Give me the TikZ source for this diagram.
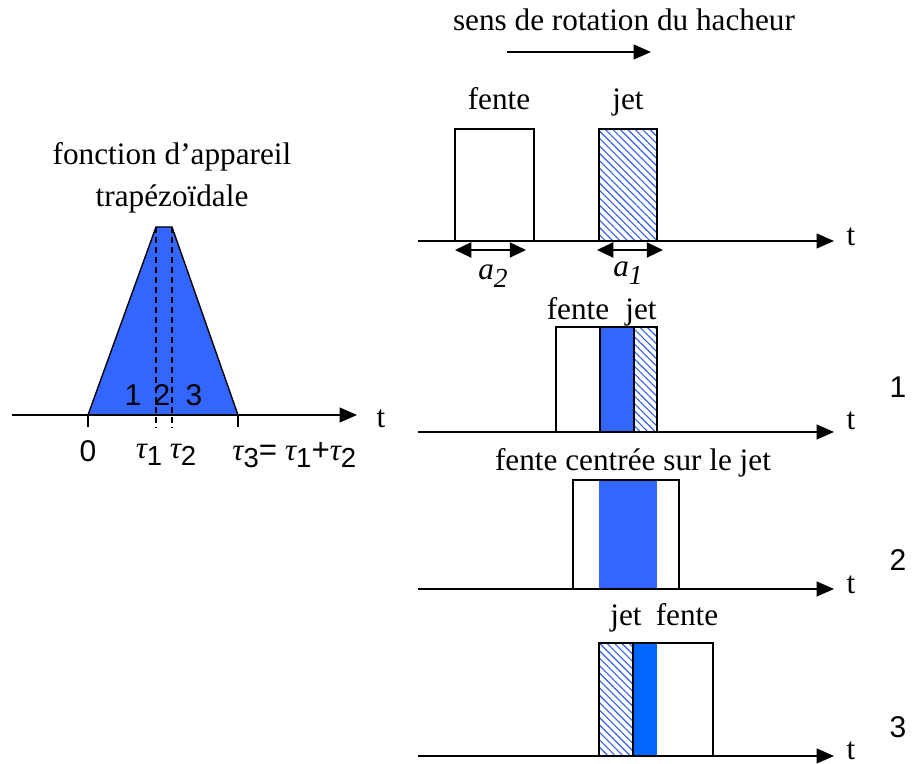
\documentclass[tikz,border=0pt]{standalone}
\usepackage{fontspec}
\setmainfont{Liberation Serif}
\setsansfont{Liberation Sans}
\usepackage{tikz}
\usetikzlibrary{arrows.meta, patterns.meta, positioning}
\definecolor{myblue}{RGB}{51,102,255}
\definecolor{mydeep}{RGB}{0,102,255}
\definecolor{myhatch}{RGB}{50,95,235}
\newcommand{\tsub}[1]{{\itshape τ}\raisebox{-0.45ex}{\sffamily\fontsize{11}{12}\selectfont #1}}
\newcommand{\asub}[1]{\textit{a}\raisebox{-0.6ex}{\fontsize{11}{12}\selectfont\itshape #1}}
\tikzset{
  axe/.style={-{Triangle[length=7pt,width=6pt]}, line width=0.55pt},
  cote/.style={{Triangle[length=6.5pt,width=6pt]}-{Triangle[length=6.5pt,width=6pt]}, line width=0.8pt},
  fente/.style={draw, line width=0.55pt},
  jet/.style={pattern={Lines[angle=-45,distance=2.1pt,line width=0.45pt]}, pattern color=myhatch},
  lbl/.style={font=\fontsize{12.5}{14}\selectfont, inner sep=0pt, anchor=base},
  num/.style={font=\sffamily\fontsize{12}{14}\selectfont, inner sep=0pt},
  tlbl/.style={font=\fontsize{12.5}{14}\selectfont, inner sep=0pt},
  guide/.style={line width=0.5pt, dash pattern=on 2.4pt off 1.6pt}
}

\begin{document}
\begin{tikzpicture}[x=0.4pt, y=-0.4pt]
  \useasboundingbox (0,0) rectangle (922,764);

  % fonction d'appareil
  \coordinate (T0) at (88,415);
  \coordinate (T1) at (156,227);
  \coordinate (T2) at (172,227);
  \coordinate (T3) at (238,415);
  \fill[myblue] (T0) -- (T1) -- (T2) -- (T3) -- cycle;
  \draw[line width=0.55pt] (T0) -- (T1) -- (T2) -- (T3);
  \draw[guide] (T1) -- (156,428);
  \draw[guide] (T2) -- (172,428);
  \draw[line width=0.5pt] (T0) -- (88,427);
  \draw[line width=0.5pt] (T3) -- (238,427);
  \coordinate (l0) at (12,415);
  \coordinate (lE) at (357,415);
  \draw[axe] (l0) -- (lE);
  \node[tlbl] (tl) at (381,419) {t};
  \node[lbl] (titre1) at (172,165) {fonction d’appareil};
  \node[lbl] (titre2) at (172,207) {trapézoïdale};
  \node[num] (z1) at (133,395) {1};
  \node[num] (z2) at (162,395) {2};
  \node[num] (z3) at (194,395) {3};
  \node[num] (o) at (88,451) {0};
  \node[tlbl] (tau1) at (149,455) {\tsub{1}};
  \node[tlbl] (tau2) at (183,455) {\tsub{2}};
  \node[tlbl, anchor=west] (tau3) at (232,455) {\tsub{3}{\sffamily=} \tsub{1}{\sffamily+}\tsub{2}};

  % sens de rotation
  \node[lbl] (sens) at (624,31) {sens de rotation du hacheur};
  \coordinate (r0) at (507,52);
  \coordinate (r1) at (651,52);
  \draw[axe] (r0) -- (r1);

  % fente et jet separes
  \draw[fente] (455,241) rectangle (534,129);
  \fill[jet] (599,129) rectangle (657,241);
  \draw[fente] (599,241) rectangle (657,129);
  \coordinate (a0) at (418,241);
  \coordinate (aE) at (834,241);
  \draw[axe] (a0) -- (aE);
  \node[tlbl] (ta) at (851,237) {t};
  \node[lbl] (fa) at (499,110) {fente};
  \node[lbl] (ja) at (628,110) {jet};
  \coordinate (c1) at (455,250);
  \coordinate (c2) at (526,250);
  \coordinate (c3) at (597,250);
  \coordinate (c4) at (663,250);
  \draw[cote] (c1) -- (c2);
  \draw[cote] (c3) -- (c4);
  \node[tlbl] (a2) at (493,276) {\asub{2}};
  \node[tlbl] (a1) at (628,273) {\asub{1}};

  % cas 1
  \fill[myblue] (600,327) rectangle (634,432);
  \fill[jet] (634,327) rectangle (657,432);
  \draw[fente] (556,432) rectangle (634,327);
  \draw[fente] (600,432) rectangle (657,327);
  \coordinate (b0) at (418,432);
  \coordinate (bE) at (834,432);
  \draw[axe] (b0) -- (bE);
  \node[tlbl] (tb) at (851,421) {t};
  \node[lbl] (fb) at (578,320) {fente};
  \node[lbl] (jb) at (641,320) {jet};
  \node[num] (n1) at (898,387) {1};

  % cas 2
  \fill[myblue] (599,480) rectangle (657,589);
  \draw[fente] (573,589) rectangle (679,480);
  \coordinate (d0) at (418,589);
  \coordinate (dE) at (834,589);
  \draw[axe] (d0) -- (dE);
  \node[tlbl] (td) at (851,585) {t};
  \node[lbl] (fd) at (633,471) {fente centrée sur le jet};
  \node[num] (n2) at (898,560) {2};

  % cas 3
  \fill[jet] (599,643) rectangle (633,756);
  \fill[mydeep] (633,643) rectangle (657,756);
  \draw[fente] (633,756) -- (599,756) -- (599,643) -- (633,643);
  \draw[fente] (633,756) rectangle (713,643);
  \coordinate (e0) at (418,756);
  \coordinate (eE) at (834,756);
  \draw[axe] (e0) -- (eE);
  \node[tlbl] (te) at (851,751) {t};
  \node[lbl] (je) at (626,626) {jet};
  \node[lbl] (fe) at (687,626) {fente};
  \node[num] (n3) at (898,727) {3};
\end{tikzpicture}
\end{document}
